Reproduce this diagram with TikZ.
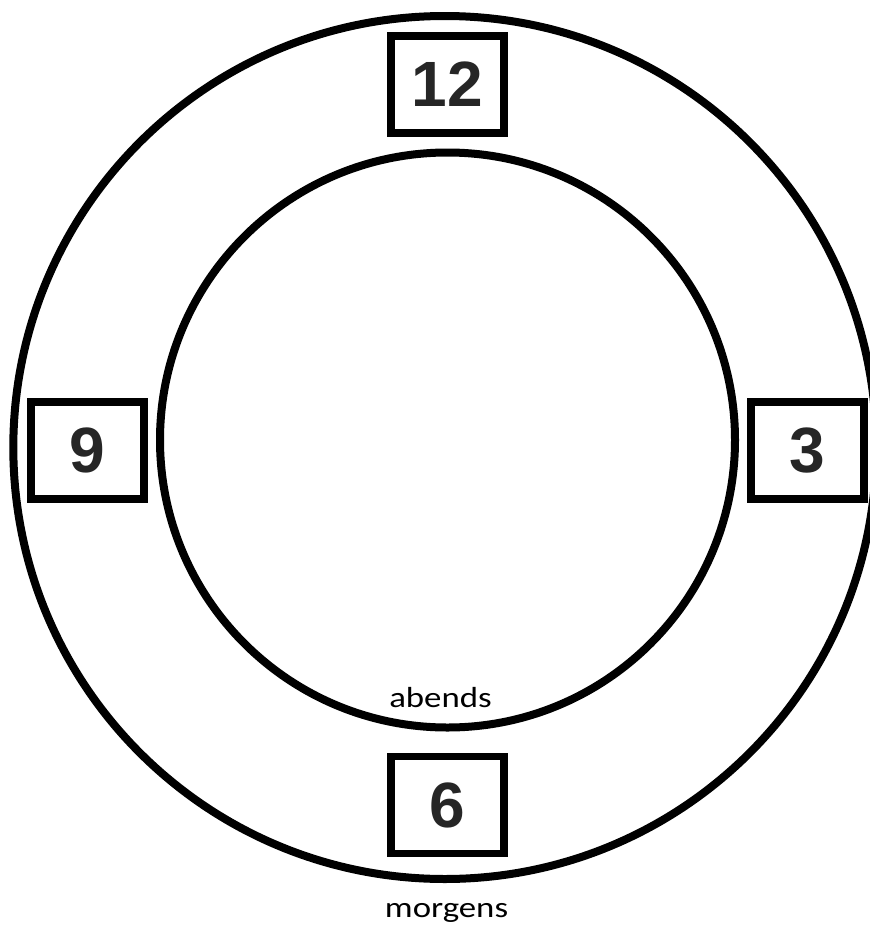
\documentclass[tikz,border=0pt]{standalone}
\usepackage{fontspec}
\setmainfont{Liberation Sans}
\newfontfamily\numfont{Liberation Sans}
\newfontfamily\lblfont[FakeStretch=1.2]{Carlito}
\begin{document}
\begin{tikzpicture}[x=1pt,y=-1pt,
  ring/.style={draw=black,line width=8pt},
  numbox/.style={draw=black,line width=7.5pt,fill=white,minimum width=113pt,minimum height=97pt,inner sep=0pt,
    font=\numfont\bfseries\fontsize{64}{64}\selectfont,text=black!85},
  lbl/.style={font=\lblfont\fontsize{29}{29}\selectfont,anchor=base,inner sep=0pt}]
\useasboundingbox (0,0) rectangle (870,929);
\clip (0,0) rectangle (870,929);
\coordinate (oc) at (444.8,447.5);
\coordinate (ic) at (447.5,440);
\draw[ring] (oc) circle[radius=431.5];
\draw[ring] (ic) circle[radius=287.5];
\node[numbox] (n12) at (447.5,84.5) {12};
\node[numbox] (n9) at (87.5,450.5) {9};
\node[numbox] (n3) at (807.5,450.5) {3};
\node[numbox] (n6) at (447.5,805) {6};
\node[lbl] (abends) at (440.5,707.7) {abends};
\node[lbl] (morgens) at (446.5,917) {morgens};
\end{tikzpicture}
\end{document}
